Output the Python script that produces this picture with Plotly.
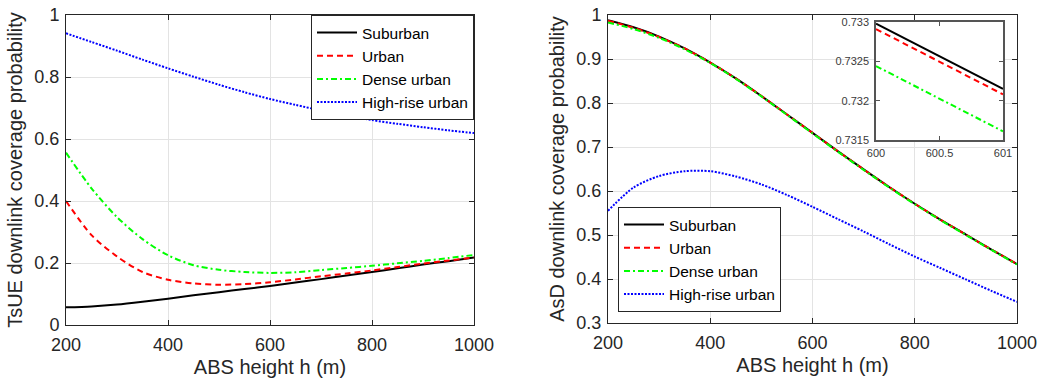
import plotly.graph_objects as go

# ---------------- data ----------------
h = [200, 250, 300, 350, 400, 450, 500, 550, 600, 650, 700, 750, 800, 850, 900, 950, 1000]
names = ["Suburban", "Urban", "Dense urban", "High-rise urban"]

# Left: TsUE downlink coverage probability
tsue_suburban = [0.057, 0.060, 0.066, 0.075, 0.085, 0.096, 0.106, 0.116, 0.126, 0.137, 0.148, 0.160, 0.171, 0.183, 0.195, 0.206, 0.218]
tsue_urban    = [0.400, 0.290, 0.221, 0.171, 0.146, 0.134, 0.130, 0.132, 0.138, 0.147, 0.157, 0.166, 0.176, 0.187, 0.198, 0.208, 0.218]
tsue_dense    = [0.556, 0.441, 0.348, 0.277, 0.225, 0.193, 0.178, 0.171, 0.168, 0.170, 0.177, 0.184, 0.191, 0.199, 0.207, 0.216, 0.226]
tsue_highrise = [0.941, 0.913, 0.885, 0.856, 0.828, 0.801, 0.775, 0.751, 0.729, 0.710, 0.692, 0.676, 0.661, 0.649, 0.638, 0.628, 0.619]

# Right: AsD downlink coverage probability
asd_suburban = [0.988, 0.972, 0.951, 0.924, 0.892, 0.856, 0.816, 0.774, 0.732, 0.690, 0.649, 0.609, 0.571, 0.535, 0.501, 0.467, 0.434]
asd_urban    = [0.987, 0.971, 0.950, 0.924, 0.892, 0.856, 0.816, 0.774, 0.732, 0.690, 0.649, 0.609, 0.571, 0.535, 0.501, 0.467, 0.434]
asd_dense    = [0.983, 0.968, 0.948, 0.922, 0.891, 0.855, 0.815, 0.773, 0.731, 0.689, 0.648, 0.608, 0.570, 0.534, 0.500, 0.466, 0.433]
asd_highrise = [0.555, 0.608, 0.634, 0.645, 0.645, 0.633, 0.615, 0.591, 0.564, 0.536, 0.508, 0.479, 0.451, 0.425, 0.399, 0.373, 0.348]

# Inset (zoom of right panel)
inset_h = [600, 601]
inset_suburban = [0.73298, 0.73215]
inset_urban    = [0.73291, 0.73208]
inset_dense    = [0.73244, 0.73161]

colors = ["#000000", "#ff0000", "#00ff00", "#0000ff"]
dashes = ["solid", "6px,4px", "6px,3px,2px,3px", "2px,1.5px"]

FONT = "Liberation Sans, Arial, Helvetica, sans-serif"
AX = "#262626"
GRID = "#e3e3e3"

fig = go.Figure()

left = [tsue_suburban, tsue_urban, tsue_dense, tsue_highrise]
right = [asd_suburban, asd_urban, asd_dense, asd_highrise]
inset = [inset_suburban, inset_urban, inset_dense]

for i in range(4):
    fig.add_trace(go.Scatter(x=h, y=left[i], name=names[i], mode="lines",
                             line=dict(color=colors[i], width=2, dash=dashes[i], shape="spline", smoothing=0.8),
                             xaxis="x", yaxis="y", legend="legend"))
for i in range(4):
    fig.add_trace(go.Scatter(x=h, y=right[i], name=names[i], mode="lines",
                             line=dict(color=colors[i], width=2, dash=dashes[i], shape="spline", smoothing=0.8),
                             xaxis="x2", yaxis="y2", legend="legend2"))
for i in range(3):
    fig.add_trace(go.Scatter(x=inset_h, y=inset[i], name=names[i], mode="lines", showlegend=False,
                             line=dict(color=colors[i], width=2, dash=dashes[i]),
                             xaxis="x3", yaxis="y3"))

W, H = 1039, 385

def xd(a, b):
    return [a / W, b / W]

def yd(top, bottom):
    return [(H - bottom) / H, (H - top) / H]

common = dict(showline=True, linecolor=AX, linewidth=1, mirror="ticks", ticks="inside",
              ticklen=5, tickcolor=AX, showgrid=True, gridcolor=GRID, gridwidth=1,
              zeroline=False, automargin=False, tickfont=dict(family=FONT, size=18, color=AX),
              title_font=dict(family=FONT, size=20, color=AX))

inset_common = dict(showline=True, linecolor="#555555", linewidth=1.5, mirror="ticks",
                    ticks="inside", ticklen=4, tickcolor="#555555", showgrid=False, zeroline=False,
                    automargin=False, tickfont=dict(family=FONT, size=11, color="#3a3a3a"))

fig.update_layout(
    width=W, height=H, autosize=False,
    margin=dict(l=0, r=0, t=0, b=0, autoexpand=False),
    paper_bgcolor="white", plot_bgcolor="white",
    font=dict(family=FONT, color=AX),
    xaxis=dict(domain=xd(66, 474), range=[200, 1000], tickvals=[200, 400, 600, 800, 1000],
               title=dict(text="ABS height h (m)", standoff=6), anchor="y", ticklabelstandoff=3, **common),
    yaxis=dict(domain=yd(15, 325), range=[0, 1], tickvals=[0, 0.2, 0.4, 0.6, 0.8, 1],
               ticktext=["0", "0.2", "0.4", "0.6", "0.8", "1"],
               title=dict(text="TsUE downlink coverage probability", standoff=6), anchor="x",
               ticklabelstandoff=2, **common),
    xaxis2=dict(domain=xd(608, 1017), range=[200, 1000], tickvals=[200, 400, 600, 800, 1000],
                title=dict(text="ABS height h (m)", standoff=6), anchor="y2", ticklabelstandoff=3, **common),
    yaxis2=dict(domain=yd(15, 323), range=[0.3, 1], tickvals=[0.3, 0.4, 0.5, 0.6, 0.7, 0.8, 0.9, 1],
                ticktext=["0.3", "0.4", "0.5", "0.6", "0.7", "0.8", "0.9", "1"],
                title=dict(text="AsD downlink coverage probability", standoff=6), anchor="x2",
                ticklabelstandoff=2, **common),
    xaxis3=dict(domain=xd(876, 1003), range=[600, 601], tickvals=[600, 600.5, 601],
                ticktext=["600", "600.5", "601"], anchor="y3", ticklabelstandoff=2, **inset_common),
    yaxis3=dict(domain=yd(22, 140), range=[0.7315, 0.733], tickvals=[0.7315, 0.732, 0.7325, 0.733],
                ticktext=["0.7315", "0.732", "0.7325", "0.733"], anchor="x3", ticklabelstandoff=3,
                **inset_common),
    legend=dict(x=474 / W, y=(H - 15) / H, xanchor="right", yanchor="top", xref="paper", yref="paper",
                bgcolor="white", bordercolor=AX, borderwidth=1,
                font=dict(family=FONT, size=15.5, color="#000000"), tracegroupgap=0, itemwidth=40),
    legend2=dict(x=618 / W, y=(H - 312) / H, xanchor="left", yanchor="bottom", xref="paper", yref="paper",
                 bgcolor="white", bordercolor=AX, borderwidth=1,
                 font=dict(family=FONT, size=15.5, color="#000000"), tracegroupgap=0, itemwidth=40),
    shapes=[dict(type="rect", xref="paper", yref="paper", x0=876 / W, x1=1003 / W,
                 y0=(H - 140) / H, y1=(H - 22) / H, fillcolor="white", line=dict(width=0), layer="below")],
)

fig.write_html("out.html", config={"displayModeBar": False},
               post_script="document.body.style.margin='0';document.body.style.overflow='hidden';")
